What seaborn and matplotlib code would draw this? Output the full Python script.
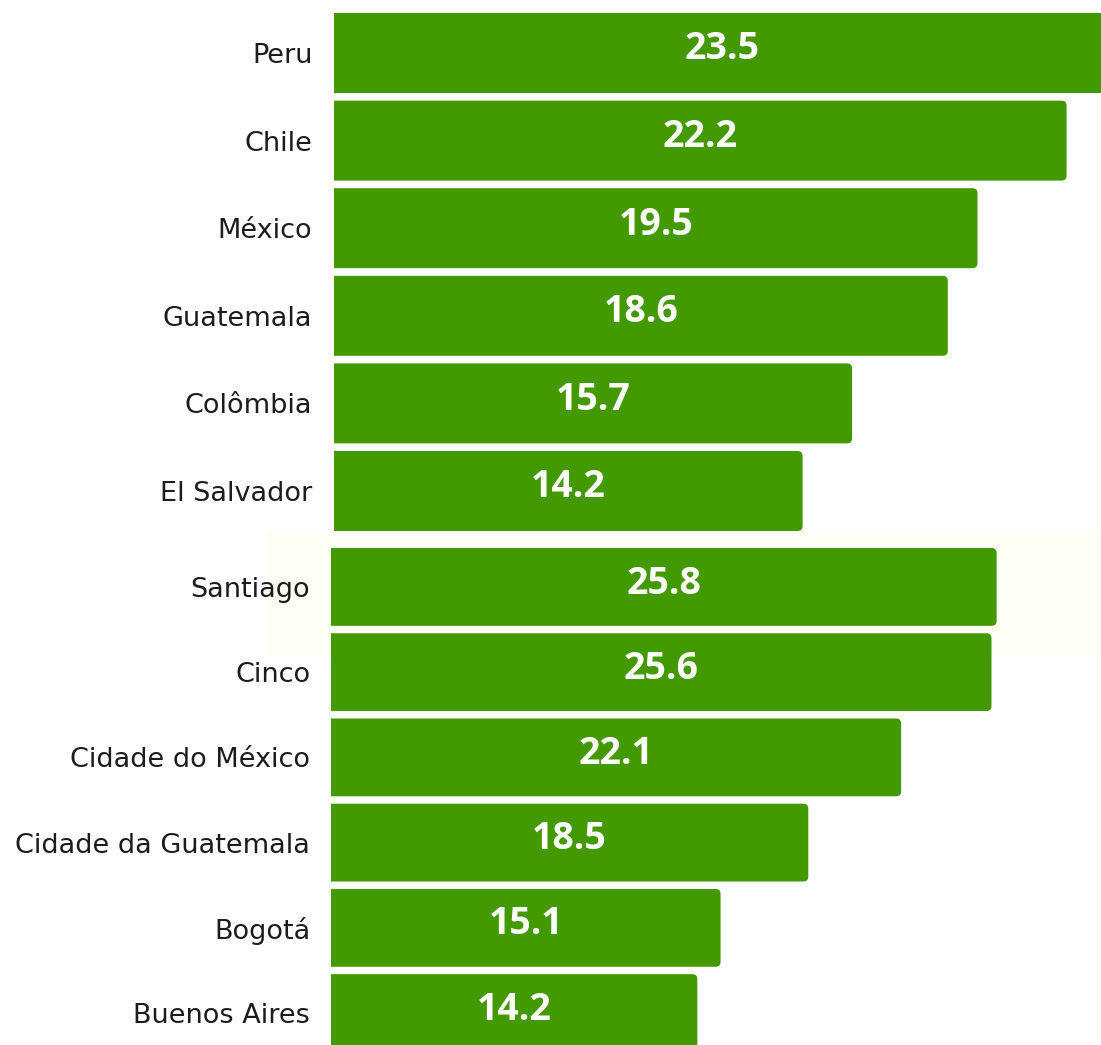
import matplotlib
matplotlib.use("Agg")
import matplotlib.pyplot as plt
import seaborn as sns
import pandas as pd
from matplotlib.patches import Rectangle, FancyBboxPatch

countries = ["Peru", "Chile", "México", "Guatemala", "Colômbia", "El Salvador"]
country_values = [23.5, 22.2, 19.5, 18.6, 15.7, 14.2]
cities = ["Santiago", "Cinco", "Cidade do México", "Cidade da Guatemala", "Bogotá", "Buenos Aires"]
city_values = [25.8, 25.6, 22.1, 18.5, 15.1, 14.2]

GREEN = "#439900"
W, H = 1101, 1045

sns.set_theme(style="white")
plt.rcParams["font.family"] = ["DejaVu Sans"]

fig = plt.figure(figsize=(W / 100, H / 100), dpi=100)

# faint highlight band behind the first city row
fig.patches.append(Rectangle((267 / W, 1 - 657 / H), (W - 267) / W, 125 / H,
                             transform=fig.transFigure, facecolor="#fdfff4",
                             edgecolor="none", zorder=-5))


def panel(rect, labels, values, xmax, px_x, px_y, pad):
    ax = fig.add_axes(rect)
    ax.set_zorder(2)
    ax.patch.set_alpha(0)
    df = pd.DataFrame({"label": labels, "value": values})
    sns.barplot(data=df, x="value", y="label", orient="h", color=GREEN,
                saturation=1, width=0.913, ax=ax)
    ax.set_xlim(0, xmax)
    ax.set_ylim(len(labels) - 0.5, -0.5)
    for s in ax.spines.values():
        s.set_visible(False)
    ax.set_xticks([])
    ax.set_xlabel("")
    ax.set_ylabel("")
    ax.tick_params(axis="y", length=0, pad=pad, labelsize=19.5, labelcolor="#1c1c1c")
    r = 5.0 / px_x
    bars = list(ax.patches)
    for p, v in zip(bars, values):
        x, y, w, h = p.get_x(), p.get_y(), p.get_width(), p.get_height()
        p.set_visible(False)
        ext = 0.5
        fb = FancyBboxPatch((x - ext, y), w + ext, h,
                            boxstyle=f"round,pad=0,rounding_size={r}",
                            mutation_aspect=px_x / px_y,
                            facecolor=GREEN, edgecolor="none")
        ax.add_patch(fb)
        ax.text(x + w / 2, y + h / 2 - 0.04, f"{v:.1f}", ha="center", va="center",
                color="white", fontsize=27, fontweight="bold", family="Open Sans",
                clip_on=False)
    return ax


# top panel (countries): 33 px per unit
top_y0 = 1 - 534.8 / H
top_h = (534.8 - 9.2) / H
panel([334 / W, top_y0, (W - 334) / W, top_h], countries, country_values,
      (W - 334) / 33.0, 33.0, 87.6, 15.5)

# bottom panel (cities): 25.8 px per unit
bot_y0 = 1 - 1055.7 / H
bot_h = (1055.7 - 544.3) / H
panel([331 / W, bot_y0, (W - 331) / W, bot_h], cities, city_values,
      (W - 331) / 25.8, 25.8, 85.2, 15)

fig.savefig("out.png", dpi=100)
